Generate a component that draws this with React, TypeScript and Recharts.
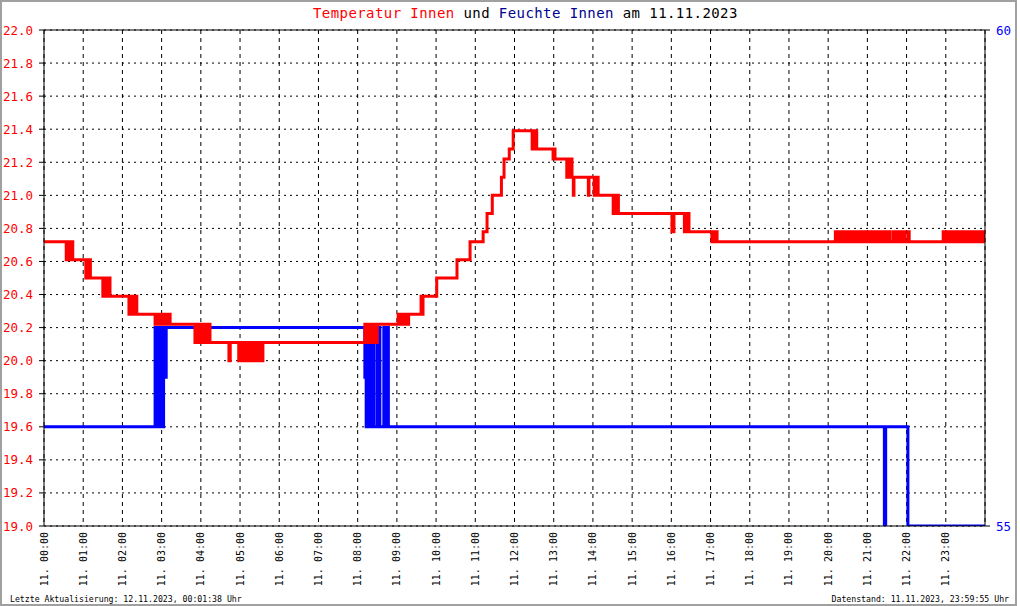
import React from "react";
import { LineChart, Line, XAxis, YAxis, CartesianGrid, ReferenceLine } from "recharts";

// ---- categories / ticks ----
const hourTicks = [0, 60, 120, 180, 240, 300, 360, 420, 480, 540, 600, 660, 720, 780, 840, 900, 960, 1020, 1080, 1140, 1200, 1260, 1320, 1380];
const hourLabels = [
  "11. 00:00", "11. 01:00", "11. 02:00", "11. 03:00", "11. 04:00", "11. 05:00",
  "11. 06:00", "11. 07:00", "11. 08:00", "11. 09:00", "11. 10:00", "11. 11:00",
  "11. 12:00", "11. 13:00", "11. 14:00", "11. 15:00", "11. 16:00", "11. 17:00",
  "11. 18:00", "11. 19:00", "11. 20:00", "11. 21:00", "11. 22:00", "11. 23:00",
];
const tempTicks = [19.0, 19.2, 19.4, 19.6, 19.8, 20.0, 20.2, 20.4, 20.6, 20.8, 21.0, 21.2, 21.4, 21.6, 21.8, 22.0];
const humTicks = [55, 60];

// ---- temperature (minutes of day, °C) ----
const tempTime = [
  0, 34, 36, 38, 39, 41, 42, 44, 64, 66, 68, 70, 71, 90, 92, 94, 96, 98, 100, 101,
  130, 132, 134, 136, 138, 140, 142, 170, 172, 174, 176, 178, 181, 183, 186, 189, 191, 193,
  231, 233, 235, 237, 240, 242, 245, 247, 250, 252, 254, 283, 285,
  298, 300, 302, 304, 306, 308, 310, 312, 314, 316, 318, 320, 322, 324, 326, 328, 330, 332, 334, 335,
  491, 493, 495, 497, 499, 501, 503, 505, 507, 509, 510,
  542, 544, 546, 548, 550, 552, 554, 556, 558, 577, 579, 580, 601, 632, 652, 672, 678, 686, 700, 704, 712, 718,
  747, 749, 751, 753, 754, 779, 781, 782, 800, 802, 804, 806, 808, 810, 811, 833, 834,
  842, 843, 845, 846, 848, 871, 873, 875, 877, 879, 961, 964, 980, 982, 984, 986, 987,
  1022, 1024, 1026, 1028, 1030,
  1211, 1213, 1215, 1217, 1219, 1222, 1224, 1226, 1229, 1231, 1233, 1236, 1238, 1240, 1243, 1245, 1247, 1250,
  1252, 1254, 1257, 1259, 1261, 1264, 1266, 1268, 1271, 1273, 1276, 1279, 1282, 1284, 1288, 1290, 1293, 1295,
  1300, 1302, 1305, 1307, 1310, 1312, 1315, 1317, 1322, 1324,
  1376, 1378, 1381, 1383, 1386, 1388, 1391, 1393, 1396, 1398, 1401, 1403, 1406, 1409, 1412, 1414, 1417, 1420,
  1423, 1427, 1429, 1433, 1435, 1438, 1440,
];
const tempValue = [
  20.72, 20.61, 20.72, 20.61, 20.72, 20.61, 20.72, 20.61, 20.5, 20.61, 20.5, 20.61, 20.5, 20.39, 20.5, 20.39, 20.5, 20.39, 20.5, 20.39,
  20.28, 20.39, 20.28, 20.39, 20.28, 20.39, 20.28, 20.22, 20.28, 20.22, 20.28, 20.22, 20.28, 20.22, 20.28, 20.22, 20.28, 20.22,
  20.11, 20.22, 20.11, 20.22, 20.11, 20.22, 20.11, 20.22, 20.11, 20.22, 20.11, 20.0, 20.11,
  20.0, 20.11, 20.0, 20.11, 20.0, 20.11, 20.0, 20.11, 20.0, 20.11, 20.0, 20.11, 20.0, 20.11, 20.0, 20.11, 20.0, 20.11, 20.0, 20.11,
  20.22, 20.11, 20.22, 20.11, 20.22, 20.11, 20.22, 20.11, 20.22, 20.11, 20.22,
  20.28, 20.22, 20.28, 20.22, 20.28, 20.22, 20.28, 20.22, 20.28, 20.39, 20.28, 20.39, 20.5, 20.61, 20.72, 20.78, 20.89, 21.0, 21.11, 21.22, 21.28, 21.39,
  21.28, 21.39, 21.28, 21.39, 21.28, 21.22, 21.28, 21.22, 21.11, 21.22, 21.11, 21.22, 21.11, 21.0, 21.11, 21.0, 21.11,
  21.0, 21.11, 21.0, 21.11, 21.0, 20.89, 21.0, 20.89, 21.0, 20.89, 20.78, 20.89, 20.78, 20.89, 20.78, 20.89, 20.78,
  20.72, 20.78, 20.72, 20.78, 20.72,
  20.78, 20.72, 20.78, 20.72, 20.78, 20.72, 20.78, 20.72, 20.78, 20.72, 20.78, 20.72, 20.78, 20.72, 20.78, 20.72, 20.78, 20.72,
  20.78, 20.72, 20.78, 20.72, 20.78, 20.72, 20.78, 20.72, 20.78, 20.72, 20.78, 20.72, 20.78, 20.72, 20.78, 20.72, 20.78, 20.72,
  20.78, 20.72, 20.78, 20.72, 20.78, 20.72, 20.78, 20.72, 20.78, 20.72,
  20.78, 20.72, 20.78, 20.72, 20.78, 20.72, 20.78, 20.72, 20.78, 20.72, 20.78, 20.72, 20.78, 20.72, 20.78, 20.72, 20.78, 20.72,
  20.78, 20.72, 20.78, 20.72, 20.78, 20.72, 20.72,
];

// ---- humidity (minutes of day, %) ----
const humTime = [
  0, 170, 171, 172, 173, 174, 175, 177, 180, 181, 182, 183, 184, 185, 186, 187,
  491, 492, 493, 494, 495, 496, 497, 498, 499, 500, 501, 502, 503, 504, 505, 510, 511, 512, 514,
  520, 521, 522, 523, 524, 525, 526, 527, 1286, 1288, 1322, 1440,
];
const humValue = [
  56, 57, 56, 57, 56, 57, 56, 57, 56, 57, 56, 57, 56.5, 57, 56.5, 57,
  56.5, 57, 56, 57, 56, 57, 56, 57, 56, 57, 56, 57, 56, 57, 56, 57, 56, 57, 56,
  57, 56.5, 57, 56, 57, 56.5, 57, 56, 55, 56, 55, 55,
];

const tempData = tempTime.map((m, i) => ({ m, t: tempValue[i] }));
const humData = humTime.map((m, i) => ({ m, h: humValue[i] }));

const FONT = "'DejaVu Sans Mono', 'Liberation Mono', monospace";

const HourTick = (props: any) => {
  const { x, y, index } = props;
  return (
    <text
      x={x}
      y={y}
      transform={`rotate(-90, ${x}, ${y})`}
      textAnchor="end"
      dominantBaseline="central"
      fontFamily={FONT}
      fontSize={10}
      fill="#000"
    >
      {hourLabels[index]}
    </text>
  );
};

const TempTick = (props: any) => {
  const { x, y, payload } = props;
  return (
    <text x={x} y={y} textAnchor="end" dominantBaseline="central" fontFamily={FONT} fontSize={12.5} fill="#ff0000">
      {Number(payload.value).toFixed(1)}
    </text>
  );
};

const HumTick = (props: any) => {
  const { x, y, payload } = props;
  return (
    <text x={x} y={y} textAnchor="start" dominantBaseline="central" fontFamily={FONT} fontSize={12.5} fill="#0000ff">
      {payload.value}
    </text>
  );
};

export default function App() {
  return (
    <div style={{ position: "absolute", left: 0, top: 0, width: 1020, height: 606, background: "#fff" }}>
      <div
        style={{
          position: "absolute",
          left: 0,
          top: 0,
          width: 1017,
          height: 606,
          boxSizing: "border-box",
          border: "2px solid #a0a0a0",
        }}
      />
      <div style={{ position: "absolute", left: 0, top: 0 }}>
        <LineChart width={1020} height={606} margin={{ top: 30, right: 0, bottom: 0, left: 0 }}>
          <XAxis
            xAxisId="x"
            dataKey="m"
            type="number"
            domain={[0, 1440]}
            ticks={hourTicks}
            interval={0}
            height={80}
            tickSize={0}
            tickMargin={6}
            tickLine={false}
            axisLine={{ stroke: "#000" }}
            tick={<HourTick />}
            allowDataOverflow
          />
          <YAxis
            yAxisId="t"
            orientation="left"
            domain={[19, 22]}
            ticks={tempTicks}
            interval={0}
            width={44}
            tickSize={5}
            tickMargin={6}
            tickLine={{ stroke: "#000" }}
            axisLine={{ stroke: "#000" }}
            tick={<TempTick />}
            allowDataOverflow
          />
          <YAxis
            yAxisId="h"
            orientation="right"
            domain={[55, 60]}
            ticks={humTicks}
            interval={0}
            width={35}
            tickSize={5}
            tickMargin={6}
            tickLine={{ stroke: "#000" }}
            axisLine={{ stroke: "#000" }}
            tick={<HumTick />}
            allowDataOverflow
          />
          <CartesianGrid xAxisId="x" yAxisId="t" vertical={false} stroke="#000" strokeDasharray="2 4" />
          <CartesianGrid xAxisId="x" yAxisId="t" horizontal={false} stroke="#000" strokeDasharray="4 4" />
          <ReferenceLine xAxisId="x" yAxisId="t" y={22} stroke="#000" strokeWidth={1} />
          <Line
            xAxisId="x"
            yAxisId="h"
            data={humData}
            dataKey="h"
            type="stepAfter"
            stroke="#0000ff"
            strokeWidth={3}
            dot={false}
            isAnimationActive={false}
          />
          <Line
            xAxisId="x"
            yAxisId="t"
            data={tempData}
            dataKey="t"
            type="stepAfter"
            stroke="#ff0000"
            strokeWidth={3}
            dot={false}
            isAnimationActive={false}
          />
        </LineChart>
      </div>
      <svg width={1020} height={606} style={{ position: "absolute", left: 0, top: 0, pointerEvents: "none" }}>
        <text x={313} y={18} fontFamily={FONT} fontSize={14} letterSpacing={0.42}>
          <tspan fill="#ff0000">Temperatur Innen</tspan>
          <tspan fill="#000"> und </tspan>
          <tspan fill="#000090">Feuchte Innen</tspan>
          <tspan fill="#000"> am 11.11.2023</tspan>
        </text>
        <text x={10} y={602} fontFamily={FONT} fontSize={8.2} fill="#000">
          Letzte Aktualisierung: 12.11.2023, 00:01:38 Uhr
        </text>
        <text x={1009} y={602} textAnchor="end" fontFamily={FONT} fontSize={8.2} fill="#000">
          Datenstand: 11.11.2023, 23:59:55 Uhr
        </text>
      </svg>
    </div>
  );
}
